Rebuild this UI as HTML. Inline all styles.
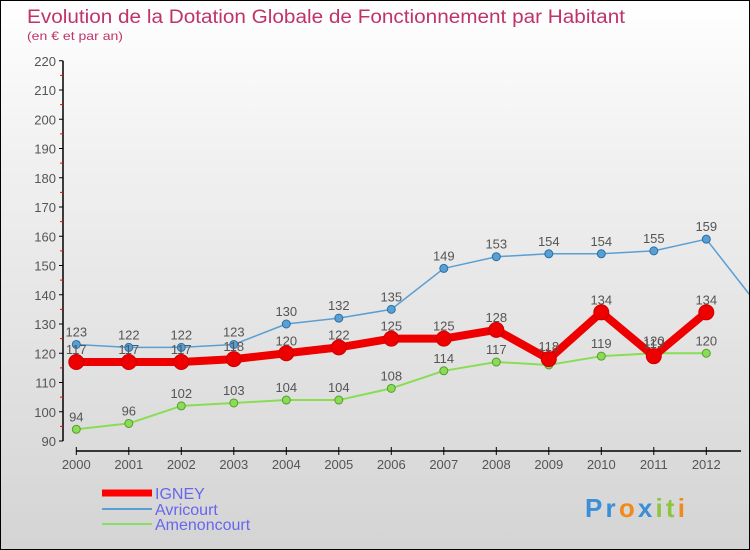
<!DOCTYPE html>
<html><head><meta charset="utf-8"><style>
body{margin:0}
#c{position:relative;width:748px;height:548px;border:1px solid #000;background:linear-gradient(#ffffff,#f0f0f0 30%,#d4d4d4);overflow:hidden;font-family:"Liberation Sans",sans-serif}
</style></head><body>
<div id="c">
<svg width="748" height="548">
<text x="26" y="22" font-size="19" fill="#c0336a" textLength="598" lengthAdjust="spacingAndGlyphs">Evolution de la Dotation Globale de Fonctionnement par Habitant</text>
<text x="26" y="39" font-size="12" fill="#c0336a" textLength="96" lengthAdjust="spacingAndGlyphs">(en € et par an)</text>
<g id="axes"></g><g id="series"></g>
<g>
<line x1="101" y1="492" x2="151" y2="492" stroke="#f00" stroke-width="7"/>
<text x="154" y="498" font-size="16" fill="#6666ee">IGNEY</text>
<line x1="101" y1="508" x2="151" y2="508" stroke="#5a9fd4" stroke-width="2"/>
<text x="154" y="514" font-size="16" fill="#6666ee">Avricourt</text>
<line x1="101" y1="523" x2="151" y2="523" stroke="#88dd66" stroke-width="2"/>
<text x="154" y="529" font-size="16" fill="#6666ee">Amenoncourt</text>
</g>
<g font-size="26" font-weight="bold">
<text x="584" y="516" textLength="100" lengthAdjust="spacing"><tspan fill="#3a8fd8">Pr</tspan><tspan fill="#f08a1c">o</tspan><tspan fill="#3a8fd8">x</tspan><tspan fill="#8cc63f">it</tspan><tspan fill="#f08a1c">i</tspan></text>
</g>
</svg>
</div>
<script>
const years=[2000,2001,2002,2003,2004,2005,2006,2007,2008,2009,2010,2011,2012];
const yTicks=[90,100,110,120,130,140,150,160,170,180,190,200,210,220];
const igney=[117,117,117,118,120,122,125,125,128,118,134,119,134];
const avricourt=[123,122,122,123,130,132,135,149,153,154,154,155,159,136];
const amenoncourt=[94,96,102,103,104,104,108,114,117,116,119,120,120];
const NS="http://www.w3.org/2000/svg";
function X(i){return 75.3+i*52.5;}
function Y(v){return 440-(v-90)*2.925;}
function mk(t,a,p){const e=document.createElementNS(NS,t);for(const k in a)e.setAttribute(k,a[k]);p.appendChild(e);return e;}
const ax=document.getElementById('axes');
let yl=mk('line',{x1:62,y1:Y(220),x2:62,y2:Y(90),stroke:'#000','stroke-width':1.5},ax);


yTicks.forEach(v=>{
 mk('line',{x1:58,y1:Y(v),x2:62,y2:Y(v),stroke:'#000'},ax);
 if(v<220)mk('line',{x1:59,y1:Y(v+5),x2:62,y2:Y(v+5),stroke:'#f00'},ax);
 const t=mk('text',{x:55,y:Y(v)+5,'font-size':13,fill:'#555','text-anchor':'end'},ax);t.textContent=v;
 
 
});
let xl=mk('line',{x1:75,y1:450,x2:740,y2:450,stroke:'#000','stroke-width':1.5},ax);


years.forEach((y,i)=>{
 mk('line',{x1:X(i),y1:446,x2:X(i),y2:454,stroke:'#000'},ax);
 const t=mk('text',{x:X(i),y:468,'font-size':13,fill:'#555','text-anchor':'middle'},ax);t.textContent=y;
 
 
});
const sg=document.getElementById('series');
function series(name,data,color,w,r,stroke){
 const g=mk('g',{},sg);
 
 
 const pl=mk('polyline',{points:data.map((v,i)=>X(i)+','+Y(v)).join(' '),fill:'none',stroke:color,'stroke-width':w,'stroke-linejoin':'round'},g);
 
 
 data.forEach((v,i)=>{
  if(i>=years.length)return;
  const c=mk('circle',{cx:X(i),cy:Y(v),r:r,fill:color,stroke:stroke,'stroke-width':1},g);
  
  
  const t=mk('text',{x:X(i),y:Y(v)-8,'font-size':13,fill:'#555','text-anchor':'middle'},g);t.textContent=v;
  
  
 });
}
series('amenoncourt',amenoncourt,'#88dd55',2,4,'#5a9a30');
series('avricourt',avricourt,'#5a9fd4',1.5,4,'#2a6fa4');
series('igney',igney,'#ee0000',8,7.5,'#cc0000');
</script>
</body></html>
